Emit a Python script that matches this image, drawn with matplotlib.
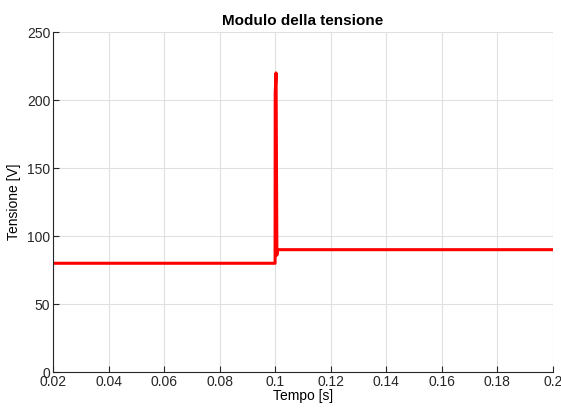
import matplotlib
matplotlib.use('Agg')
import matplotlib.pyplot as plt

# signal samples
tempo = [0.02, 0.09995, 0.1, 0.1003, 0.1006, 0.10065, 0.1009, 0.2]
tensione = [80, 80, 205, 220, 86, 88, 90, 90]

xticks = [0.02, 0.04, 0.06, 0.08, 0.1, 0.12, 0.14, 0.16, 0.18, 0.2]
xlabels = ['0.02', '0.04', '0.06', '0.08', '0.1', '0.12', '0.14', '0.16', '0.18', '0.2']
yticks = [0, 50, 100, 150, 200, 250]

plt.rcParams['font.family'] = ['Liberation Sans', 'DejaVu Sans']

fig = plt.figure(figsize=(5.61, 4.12), dpi=100)
ax = fig.add_axes([0.0945, 0.097, 0.8912, 0.825])
ax.plot(tempo, tensione, color='#ff0000', linewidth=2.2)

ax.set_xlim(0.02, 0.2)
ax.set_ylim(0, 250)
ax.set_xticks(xticks)
ax.set_xticklabels(xlabels)
ax.set_yticks(yticks)
ax.grid(True, color='#e0e0e0', linewidth=0.8)
ax.set_axisbelow(True)
for s in ['top', 'right']:
    ax.spines[s].set_visible(False)
for s in ['left', 'bottom']:
    ax.spines[s].set_color('#262626')
    ax.spines[s].set_linewidth(0.8)
ax.tick_params(direction='in', length=4, labelsize=10, colors='#262626', pad=2)

ax.set_title('Modulo della tensione', fontsize=11, fontweight='bold', pad=5)
ax.set_xlabel('Tempo [s]', fontsize=10, labelpad=0)
ax.set_ylabel('Tensione [V]', fontsize=10, labelpad=4)

fig.savefig('out.png', dpi=100)
